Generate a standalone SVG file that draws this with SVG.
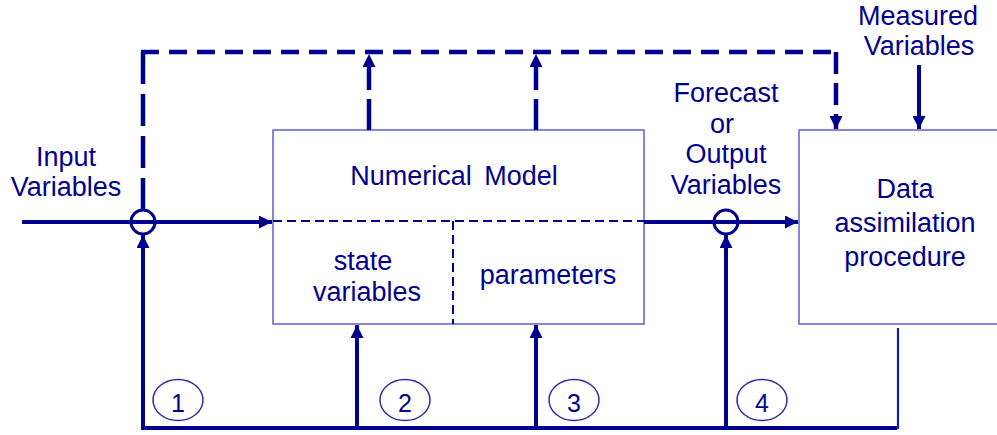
<svg xmlns="http://www.w3.org/2000/svg" width="997" height="435" viewBox="0 0 997 435">
  <defs>
    <marker id="arrow" markerUnits="userSpaceOnUse" markerWidth="14" markerHeight="13" refX="13" refY="6.5" orient="auto">
      <path d="M0,0 L13,6.5 L0,13 Z" fill="#00008f"/>
    </marker>
  </defs>
  <style>
    .txt { font-family: "Liberation Sans", Arial, sans-serif; font-size: 27px; fill: #00008f; text-anchor: middle; }
    .num { font-family: "Liberation Sans", Arial, sans-serif; font-size: 25px; fill: #00008f; text-anchor: middle; }
    .box { fill: #ffffff; stroke: #6a6ad0; stroke-width: 1.6; }
    .thick { fill: none; stroke: #00008f; stroke-width: 4; }
    .dash { fill: none; stroke: #00008f; stroke-width: 4.5; }
    .inner { fill: none; stroke: #00008f; stroke-width: 2; stroke-dasharray: 9 5; }
    .junction { fill: none; stroke: #00008f; stroke-width: 3; }
    .tag { fill: none; stroke: #2a2aa8; stroke-width: 1.5; }
  </style>

  <!-- Numerical model block -->
  <g id="numerical-model">
    <rect class="box" x="273" y="130" width="371" height="194"/>
    <path class="inner" d="M273,221 H644 M453,221 V324"/>
    <text class="txt" x="454" y="185">Numerical <tspan dx="5">Model</tspan></text>
    <text class="txt" x="363" y="270">state</text>
    <text class="txt" x="367" y="301">variables</text>
    <text class="txt" x="548" y="284">parameters</text>
  </g>

  <!-- Data assimilation block -->
  <g id="data-assimilation">
    <rect class="box" x="799" y="130" width="220" height="194"/>
    <text class="txt" x="905" y="198">Data</text>
    <text class="txt" x="905" y="232">assimilation</text>
    <text class="txt" x="905" y="266">procedure</text>
  </g>

  <!-- Free labels -->
  <g id="input-label">
    <text class="txt" x="66" y="166">Input</text>
    <text class="txt" x="66" y="196">Variables</text>
  </g>
  <g id="output-label">
    <text class="txt" x="726" y="102">Forecast</text>
    <text class="txt" x="722" y="133">or</text>
    <text class="txt" x="726" y="163">Output</text>
    <text class="txt" x="726" y="194">Variables</text>
  </g>
  <g id="measured-label">
    <text class="txt" x="918" y="25">Measured</text>
    <text class="txt" x="919" y="55">Variables</text>
  </g>

  <!-- Connectors -->
  <g id="connectors">
    <!-- input and output flow -->
    <path class="thick" d="M22,222 H272" marker-end="url(#arrow)"/>
    <path class="thick" d="M644,222 H798" marker-end="url(#arrow)"/>
    <!-- measured variables -->
    <path class="thick" d="M919,65 V129" marker-end="url(#arrow)"/>

    <!-- dashed feedback loop over the top -->
    <path class="dash" d="M141,52 H838" stroke-dasharray="18 10"/>
    <path class="dash" d="M143,52 V210" stroke-dasharray="32 10"/>
    <path class="dash" d="M836,52 V129" stroke-dasharray="22 9" marker-end="url(#arrow)"/>
    <path class="dash" d="M369,130 V54" stroke-dasharray="31 9" marker-end="url(#arrow)"/>
    <path class="dash" d="M536,130 V54" stroke-dasharray="31 9" marker-end="url(#arrow)"/>

    <!-- correction loop along the bottom -->
    <path class="thick" d="M897,428 H143 V235" marker-end="url(#arrow)"/>
    <path class="thick" d="M357,428 V325" marker-end="url(#arrow)"/>
    <path class="thick" d="M536,428 V325" marker-end="url(#arrow)"/>
    <path class="thick" d="M726,428 V235" marker-end="url(#arrow)"/>
    <path fill="none" stroke="#1a1aa8" stroke-width="2.2" d="M898,328 V429"/>

    <!-- summing junctions -->
    <circle class="junction" cx="143" cy="222" r="12"/>
    <circle class="junction" cx="726" cy="222" r="12"/>
  </g>

  <!-- Numbered update options -->
  <g id="option-1">
    <ellipse class="tag" cx="178" cy="400" rx="25" ry="20.5"/>
    <text class="num" x="178" y="412">1</text>
  </g>
  <g id="option-2">
    <ellipse class="tag" cx="405" cy="400" rx="25" ry="20.5"/>
    <text class="num" x="405" y="412">2</text>
  </g>
  <g id="option-3">
    <ellipse class="tag" cx="574" cy="400" rx="25" ry="20.5"/>
    <text class="num" x="574" y="412">3</text>
  </g>
  <g id="option-4">
    <ellipse class="tag" cx="762" cy="400" rx="25" ry="20.5"/>
    <text class="num" x="762" y="412">4</text>
  </g>
</svg>
